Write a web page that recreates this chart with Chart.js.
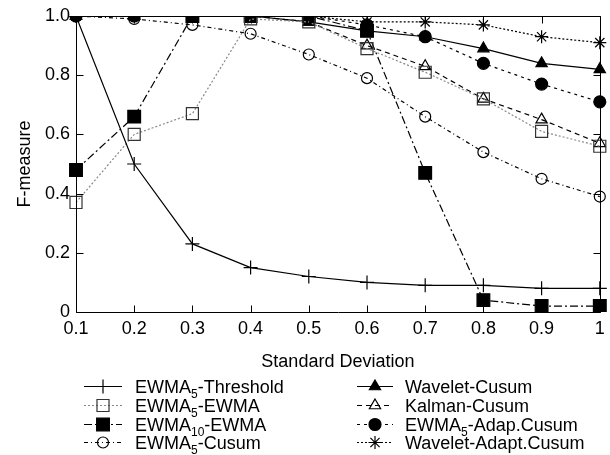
<!DOCTYPE html>
<html>
<head>
<meta charset="utf-8">
<script src="https://cdn.jsdelivr.net/npm/chart.js@4.4.0/dist/chart.umd.min.js"></script>
<style>
  html, body { margin: 0; padding: 0; background: #fff; }
  #wrap { width: 610px; height: 455px; }
</style>
</head>
<body>
<div id="wrap"><canvas id="chart"></canvas></div>
<script>
const sigma = ['0.1', '0.2', '0.3', '0.4', '0.5', '0.6', '0.7', '0.8', '0.9', '1'];

const ewma5Threshold    = [1.00, 0.50, 0.23, 0.15, 0.12, 0.10, 0.09, 0.09, 0.08, 0.08];
const ewma5Ewma         = [0.37, 0.60, 0.67, 0.99, 0.98, 0.89, 0.81, 0.72, 0.61, 0.56];
const ewma10Ewma        = [0.48, 0.66, 1.00, 1.00, 1.00, 0.95, 0.47, 0.04, 0.02, 0.02];
const ewma5Cusum        = [1.00, 0.99, 0.97, 0.94, 0.87, 0.79, 0.66, 0.54, 0.45, 0.39];
const waveletCusum      = [1.00, 1.00, 1.00, 1.00, 0.98, 0.95, 0.93, 0.89, 0.84, 0.82];
const kalmanCusum       = [1.00, 1.00, 1.00, 1.00, 0.98, 0.90, 0.83, 0.72, 0.65, 0.57];
const ewma5AdapCusum    = [1.00, 1.00, 1.00, 1.00, 1.00, 0.97, 0.93, 0.84, 0.77, 0.71];
const waveletAdaptCusum = [1.00, 1.00, 1.00, 1.00, 1.00, 0.98, 0.98, 0.97, 0.93, 0.91];

const yTicks = [0, 0.2, 0.4, 0.6, 0.8, 1];

// legend names, _{..} marks a subscript
const names = [
  'EWMA_{5}-Threshold', 'EWMA_{5}-EWMA', 'EWMA_{10}-EWMA', 'EWMA_{5}-Cusum',
  'Wavelet-Cusum', 'Kalman-Cusum', 'EWMA_{5}-Adap.Cusum', 'Wavelet-Adapt.Cusum'
];

const FONT = '"Liberation Sans", Arial, Helvetica, sans-serif';
Chart.defaults.font.family = FONT;
Chart.defaults.font.size = 18;
Chart.defaults.color = '#000';

function ds(label, data, o) {
  return Object.assign({
    label: label,
    data: data,
    borderColor: '#000',
    borderWidth: 1.2,
    pointBorderColor: '#000',
    pointBackgroundColor: '#000',
    pointBorderWidth: 1.2,
    pointRadius: 6,
    tension: 0,
    fill: false
  }, o);
}

const datasets = [
  ds(names[0], ewma5Threshold, { pointStyle: 'cross', pointRadius: 7 }),
  ds(names[1], ewma5Ewma, { borderColor: '#888', borderDash: [2, 2], pointStyle: 'rect', pointRadius: 8.5,
    pointBorderColor: '#333', pointBackgroundColor: 'rgba(0,0,0,0)' }),
  ds(names[2], ewma10Ewma, { borderDash: [8, 3, 2, 3], pointStyle: 'rect', pointRadius: 9 }),
  ds(names[3], ewma5Cusum, { borderDash: [4, 3, 1, 3], pointStyle: 'circle', pointRadius: 5.5,
    pointBackgroundColor: 'rgba(0,0,0,0)' }),
  ds(names[4], waveletCusum, { pointStyle: 'triangle', pointRadius: 6.5 }),
  ds(names[5], kalmanCusum, { borderDash: [5, 4], pointStyle: 'triangle', pointRadius: 6.5,
    pointBackgroundColor: 'rgba(0,0,0,0)' }),
  ds(names[6], ewma5AdapCusum, { borderDash: [3, 4], pointStyle: 'circle', pointRadius: 6 }),
  ds(names[7], waveletAdaptCusum, { borderDash: [2, 2], pointStyle: 'star', pointRadius: 6.5 })
];

// border box and inward (mirrored) tick marks
const frame = {
  id: 'frame',
  afterDatasetsDraw(chart) {
    const { ctx, chartArea: a, scales: { x, y } } = chart;
    const L = Math.round(a.left) + 0.5, R = Math.round(a.right) + 0.5;
    const T = Math.round(a.top) + 0.5, B = Math.round(a.bottom) + 0.5;
    ctx.save();
    ctx.strokeStyle = '#000';
    ctx.lineWidth = 1;
    ctx.beginPath();
    ctx.rect(L, T, R - L, B - T);
    x.ticks.forEach((t, i) => {
      const px = Math.round(x.getPixelForTick(i)) + 0.5;
      ctx.moveTo(px, B); ctx.lineTo(px, B - 7);
      ctx.moveTo(px, T); ctx.lineTo(px, T + 7);
    });
    yTicks.forEach(v => {
      const py = Math.round(y.getPixelForValue(v)) + 0.5;
      ctx.moveTo(L, py); ctx.lineTo(L + 7, py);
      ctx.moveTo(R, py); ctx.lineTo(R - 7, py);
    });
    ctx.stroke();
    ctx.restore();
  }
};

// two-column legend below the plot with subscripts
const legendBox = {
  id: 'legendBox',
  afterDraw(chart) {
    const { ctx } = chart;
    const cols = [{ x0: 84, x1: 122, tx: 135 }, { x0: 357, x1: 393, tx: 405 }];
    const rows = [386, 405, 424, 442];
    ctx.save();
    chart.data.datasets.forEach((d, i) => {
      const c = cols[Math.floor(i / 4)];
      const yy = rows[i % 4];
      // sample line
      ctx.save();
      ctx.strokeStyle = d.borderColor;
      ctx.lineWidth = d.borderWidth;
      ctx.setLineDash(d.borderDash || []);
      ctx.beginPath();
      ctx.moveTo(c.x0, yy + 0.5);
      ctx.lineTo(c.x1, yy + 0.5);
      ctx.stroke();
      ctx.restore();
      // marker
      ctx.save();
      ctx.fillStyle = d.pointBackgroundColor;
      ctx.strokeStyle = d.pointBorderColor;
      ctx.lineWidth = d.pointBorderWidth;
      Chart.helpers.drawPoint(ctx, {
        pointStyle: d.pointStyle, radius: d.pointRadius, rotation: 0, borderWidth: d.pointBorderWidth
      }, (c.x0 + c.x1) / 2, yy + 0.5);
      ctx.restore();
      // label text
      ctx.fillStyle = '#000';
      ctx.textBaseline = 'alphabetic';
      ctx.textAlign = 'left';
      let tx = c.tx;
      const base = yy + 6.5;
      names[i].split(/(_\{[^}]*\})/).forEach(part => {
        if (!part) return;
        if (part.startsWith('_{')) {
          const s = part.slice(2, -1);
          ctx.font = '12px ' + FONT;
          ctx.fillText(s, tx, base + 5);
          tx += ctx.measureText(s).width;
        } else {
          ctx.font = '18px ' + FONT;
          ctx.fillText(part, tx, base);
          tx += ctx.measureText(part).width;
        }
      });
    });
    ctx.restore();
  }
};

new Chart(document.getElementById('chart'), {
  type: 'line',
  data: { labels: sigma, datasets: datasets },
  options: {
    responsive: true,
    maintainAspectRatio: false,
    animation: false,
    layout: { padding: { top: 16, right: 1, bottom: 81, left: 0 } },
    plugins: { legend: { display: false }, tooltip: { enabled: false } },
    scales: {
      x: {
        type: 'category',
        offset: false,
        grid: { display: false, drawTicks: false },
        border: { display: false },
        ticks: { padding: 6, maxRotation: 0, autoSkip: false, font: { size: 18 } },
        title: { display: true, text: 'Standard Deviation', font: { size: 18 }, padding: { top: 0, bottom: 1 } },
        afterFit(s) { s.height = 62; s.paddingLeft = 0; s.paddingRight = 0; }
      },
      y: {
        min: 0,
        max: 1,
        grid: { display: false, drawTicks: false },
        border: { display: false },
        ticks: { stepSize: 0.2, padding: 6, font: { size: 18 } },
        afterBuildTicks(s) { s.ticks = yTicks.map(v => ({ value: v })); },
        title: { display: true, text: 'F-measure', font: { size: 18 }, padding: { top: 14, bottom: 0 } },
        afterFit(s) { s.width = 76; s.paddingTop = 0; s.paddingBottom = 0; }
      }
    }
  },
  plugins: [frame, legendBox]
});
</script>
</body>
</html>
